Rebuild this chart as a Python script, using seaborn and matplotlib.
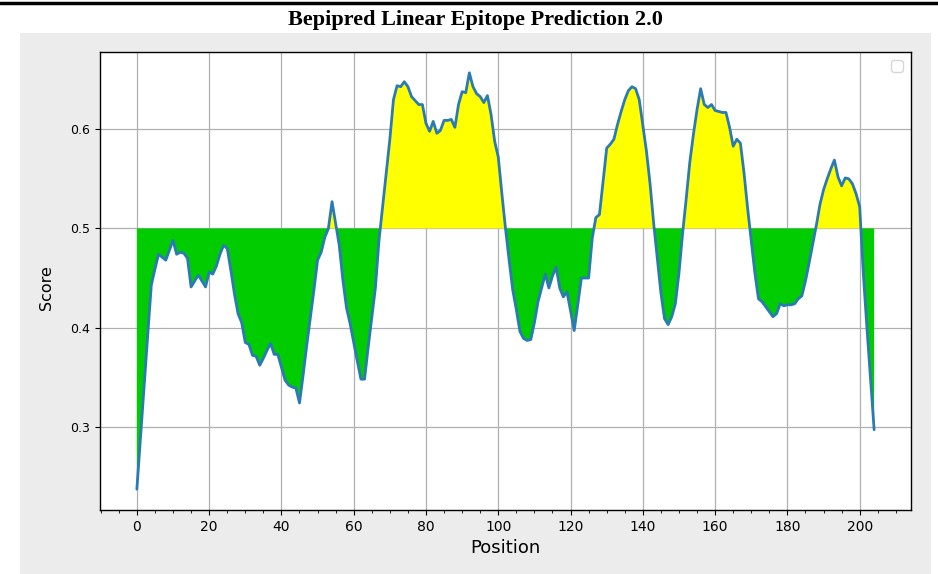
import matplotlib
matplotlib.use("Agg")
import matplotlib.pyplot as plt
from matplotlib.ticker import MultipleLocator, FormatStrFormatter
from matplotlib.patches import Rectangle
from matplotlib.lines import Line2D
import numpy as np
import pandas as pd
import seaborn as sns

# Per-residue BepiPred-2.0 scores (residue positions 0..204)
positions = list(range(205))
scores = [
    0.237, 0.289, 0.340, 0.392, 0.443, 0.459, 0.474, 0.471, 0.468, 0.478,
    0.488, 0.474, 0.476, 0.475, 0.470, 0.441, 0.447, 0.453, 0.447, 0.441,
    0.456, 0.454, 0.462, 0.474, 0.483, 0.480, 0.458, 0.434, 0.414, 0.405,
    0.385, 0.383, 0.372, 0.371, 0.362, 0.369, 0.377, 0.384, 0.373, 0.373,
    0.360, 0.347, 0.342, 0.340, 0.339, 0.324, 0.352, 0.382, 0.410, 0.438,
    0.468, 0.476, 0.491, 0.500, 0.527, 0.505, 0.483, 0.448, 0.420, 0.404,
    0.385, 0.366, 0.348, 0.348, 0.380, 0.410, 0.440, 0.488, 0.522, 0.555,
    0.590, 0.630, 0.644, 0.643, 0.648, 0.643, 0.633, 0.629, 0.625, 0.625,
    0.606, 0.598, 0.608, 0.596, 0.599, 0.609, 0.609, 0.610, 0.602, 0.625,
    0.638, 0.637, 0.657, 0.643, 0.636, 0.633, 0.627, 0.634, 0.615, 0.588,
    0.572, 0.535, 0.500, 0.468, 0.438, 0.418, 0.396, 0.389, 0.387, 0.388,
    0.405, 0.426, 0.440, 0.454, 0.440, 0.452, 0.461, 0.440, 0.431, 0.436,
    0.417, 0.397, 0.423, 0.450, 0.450, 0.450, 0.490, 0.511, 0.514, 0.548,
    0.581, 0.585, 0.590, 0.605, 0.618, 0.630, 0.639, 0.643, 0.641, 0.630,
    0.604, 0.578, 0.545, 0.505, 0.470, 0.435, 0.409, 0.403, 0.411, 0.424,
    0.455, 0.495, 0.530, 0.567, 0.595, 0.620, 0.641, 0.625, 0.622, 0.625,
    0.619, 0.618, 0.617, 0.617, 0.602, 0.583, 0.590, 0.586, 0.556, 0.520,
    0.487, 0.455, 0.429, 0.426, 0.421, 0.416, 0.411, 0.414, 0.424, 0.422,
    0.423, 0.423, 0.424, 0.429, 0.432, 0.447, 0.465, 0.484, 0.503, 0.524,
    0.539, 0.550, 0.560, 0.569, 0.552, 0.543, 0.551, 0.550, 0.545, 0.535,
    0.522, 0.455, 0.400, 0.349, 0.297,
]
threshold = 0.5
title = "Bepipred Linear Epitope Prediction 2.0"

df = pd.DataFrame({"Position": positions, "Score": scores})

sns.set_theme(style="whitegrid")
plt.rcParams.update({
    "font.family": ["DejaVu Sans"],
    "axes.edgecolor": "black",
    "axes.linewidth": 1.0,
    "axes.facecolor": "white",
    "grid.color": "#b0b0b0",
    "grid.linewidth": 0.9,
    "xtick.bottom": True,
    "ytick.left": True,
    "xtick.major.size": 3.5,
    "ytick.major.size": 3.5,
    "xtick.minor.size": 2.0,
    "xtick.major.width": 0.8,
    "ytick.major.width": 0.8,
    "xtick.minor.width": 0.6,
    "xtick.color": "black",
    "ytick.color": "black",
    "xtick.labelcolor": "black",
    "ytick.labelcolor": "black",
    "axes.labelcolor": "black",
    "text.color": "black",
})

W, H = 938, 574
fig = plt.figure(figsize=(W / 100, H / 100), dpi=100, facecolor="white")

# light grey canvas behind the plot and a rule above the heading
fig.add_artist(Rectangle((20 / W, 0), (931 - 20) / W, (574 - 33) / H,
                         transform=fig.transFigure, facecolor="#ececec",
                         edgecolor="none", zorder=0))
fig.add_artist(Line2D([0, 1], [1 - 3 / H, 1 - 3 / H], transform=fig.transFigure,
                      color="black", linewidth=2.5))
fig.text(475 / W, 1 - 20 / H, title, ha="center", va="center",
         family="Liberation Serif", fontweight="bold", fontsize=16)

ax = fig.add_axes([100 / W, 1 - 510 / H, (911 - 100) / W, (510 - 52) / H])
ax.set_facecolor("white")

ax.fill_between(df["Position"], df["Score"], threshold,
                where=df["Score"] >= threshold, interpolate=True,
                color="#ffff00", linewidth=0, zorder=2)
ax.fill_between(df["Position"], df["Score"], threshold,
                where=df["Score"] <= threshold, interpolate=True,
                color="#00cc00", linewidth=0, zorder=2)
sns.lineplot(data=df, x="Position", y="Score", ax=ax, color="#2a7ab5",
             linewidth=2.0, zorder=3)

ax.set_xlim(-10.2, 214.2)
ax.set_ylim(0.216, 0.678)
ax.xaxis.set_major_locator(MultipleLocator(20))
ax.xaxis.set_minor_locator(MultipleLocator(5))
ax.yaxis.set_major_locator(MultipleLocator(0.1))
ax.yaxis.set_major_formatter(FormatStrFormatter("%.1f"))
ax.tick_params(axis="x", which="major", labelsize=10)
ax.tick_params(axis="y", which="major", labelsize=9)
ax.grid(True, which="major", zorder=1)
ax.set_axisbelow(True)
ax.set_xlabel("Position", fontsize=13)
ax.set_ylabel("Score", fontsize=11.5)
ax.yaxis.set_label_coords(-0.057, 0.485)
for s in ax.spines.values():
    s.set_color("black")
    s.set_visible(True)

ax.legend(handles=[], loc="upper right")

fig.savefig("out.png", dpi=100, facecolor="white")
